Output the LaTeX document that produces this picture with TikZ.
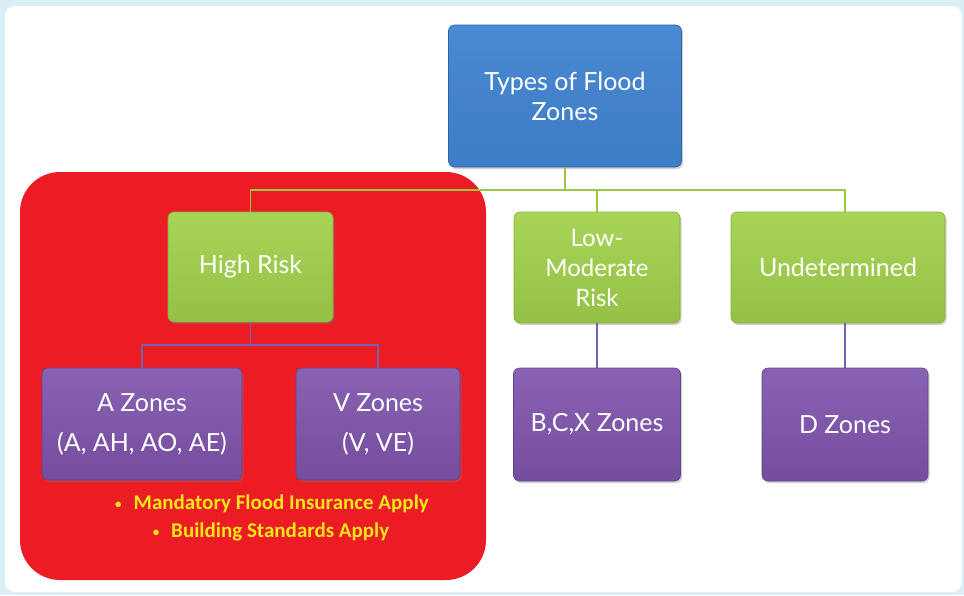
\documentclass[tikz,border=0pt]{standalone}
\usepackage{fontspec}
\setmainfont{Lato}
\newfontfamily\calib{Carlito}
\usetikzlibrary{shadows}
\definecolor{bgblue}{HTML}{D9EEF6}
\definecolor{boxblue}{HTML}{3D7CC6}
\definecolor{boxblueT}{HTML}{4A8AD2}
\definecolor{boxgreen}{HTML}{9CCB49}
\definecolor{boxgreenT}{HTML}{A8D458}
\definecolor{boxpurple}{HTML}{7B51A6}
\definecolor{boxpurpleT}{HTML}{8A62B4}
\definecolor{redzone}{HTML}{EC1C24}
\definecolor{greenline}{HTML}{9BC83E}
\definecolor{purpleline}{HTML}{7462B0}
\definecolor{yel}{HTML}{F2E61A}
\newcommand{\smbul}{{\fontsize{13}{13}\selectfont\raisebox{1.5pt}{•}}}
\tikzset{
  x=1pt, y=-1pt,
  basebox/.style={rounded corners=6pt, align=center, text=white, inner sep=2pt,
    drop shadow={shadow xshift=1.5pt, shadow yshift=-2pt, opacity=0.35}},
  bluebox/.style={basebox, top color=boxblueT, bottom color=boxblue, draw=boxblue!80!black, line width=0.6pt},
  greenbox/.style={basebox, top color=boxgreenT, bottom color=boxgreen!95!black, draw=boxgreen!85!black, line width=0.6pt},
  purplebox/.style={basebox, top color=boxpurpleT, bottom color=boxpurple!95!black, draw=boxpurple!80!black, line width=0.6pt},
  gline/.style={draw=greenline, line width=1.6pt},
  pline/.style={draw=purpleline, line width=1.6pt},
  note/.style={text=yel, font=\calib\bfseries\fontsize{21}{24}\selectfont, inner sep=0pt}
}
\begin{document}
\begin{tikzpicture}
\useasboundingbox (0,0) rectangle (964,595);
\fill[bgblue] (0,0) rectangle (964,595);
\fill[white, rounded corners=10pt] (5,6) rectangle (962,592);
\fill[redzone, rounded corners=40pt] (20,172) rectangle (486,580);

\node[bluebox, minimum width=233pt, minimum height=142pt, font=\fontsize{25}{30}\selectfont] (top) at (565,96) {Types of Flood\\Zones};
\node[greenbox, minimum width=165pt, minimum height=110pt, font=\fontsize{25}{30}\selectfont] (hr) at (250.5,267) {High Risk};
\node[greenbox, minimum width=166pt, minimum height=111pt, font=\fontsize{24}{30}\selectfont] (lm) at (597,267.5) {Low-\\Moderate\\Risk};
\node[greenbox, minimum width=214pt, minimum height=111pt, font=\fontsize{25}{30}\selectfont] (un) at (838,267.5) {Undetermined};
\node[purplebox, minimum width=200pt, minimum height=112pt, font=\fontsize{25}{40}\selectfont] (az) at (142,424) {A Zones\\(A, AH, AO, AE)};
\node[purplebox, minimum width=164pt, minimum height=112pt, font=\fontsize{25}{40}\selectfont] (vz) at (378,424) {V Zones\\(V, VE)};
\node[purplebox, minimum width=167pt, minimum height=113pt, font=\fontsize{25}{30}\selectfont] (bcx) at (597,424.5) {B,C,X Zones};
\node[purplebox, minimum width=166pt, minimum height=113pt, font=\fontsize{25}{30}\selectfont] (dz) at (845,424.5) {D Zones};

\coordinate (j) at (565,190);
\coordinate (uj) at (845,190);
\coordinate (ut) at (845,212);
\draw[gline] (top.south) -- (j);
\draw[gline] (hr.north) |- (j) -- (uj) -- (ut);
\draw[gline] (lm.north) -- (lm.north |- j);

\coordinate (pj) at (250.5,345);
\draw[pline] (hr.south) -- (pj);
\draw[pline] (az.north) |- (pj) -| (vz.north);
\draw[pline] (lm.south) -- (bcx.north);
\coordinate (us) at (845,323);
\draw[pline] (us) -- (dz.north);

\node[note] (n1) at (272,504) {\smbul\hspace{12pt}Mandatory Flood Insurance Apply};
\node[note] (n2) at (271,532) {\smbul\hspace{12pt}Building Standards Apply};
\end{tikzpicture}
\end{document}
